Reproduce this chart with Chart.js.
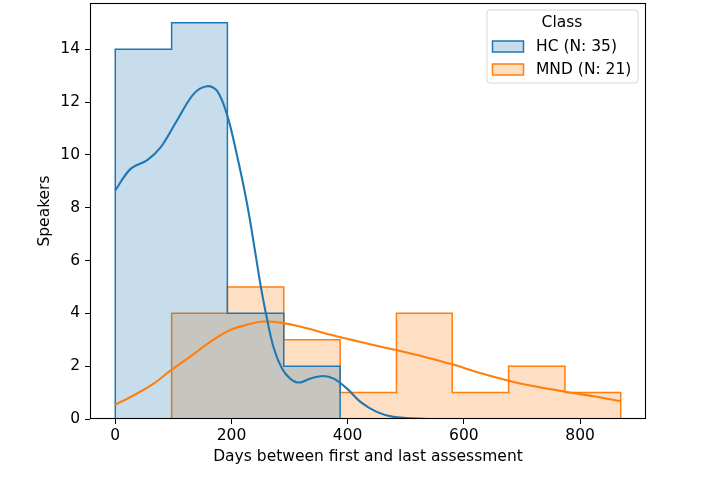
<!DOCTYPE html>
<html><head><meta charset="utf-8">
<script src="https://cdn.jsdelivr.net/npm/chart.js@4"></script>
<style>html,body{margin:0;padding:0;background:#fff}#wrap{width:718px;height:477px;position:relative}</style>
</head><body><div id="wrap"><canvas id="c"></canvas></div>
<script>
// ---- data ----
const binEdges = [0, 97, 193, 290, 387, 484, 580, 677, 774, 870];
const hcCounts = [14, 15, 4, 2, 0, 0, 0, 0, 0];
const mndCounts = [0, 4, 5, 3, 1, 4, 1, 2, 1];

const hcKdeX = [0, 26, 55, 78, 106, 135, 158, 175, 192, 209, 227, 241, 250, 261, 273, 287, 301, 316, 336, 358, 376, 399, 422, 450, 479, 520, 560, 870];
const hcKdeY = [8.66, 9.46, 9.80, 10.28, 11.29, 12.31, 12.60, 12.43, 11.55, 10.03, 8.13, 6.3, 5.08, 3.81, 2.67, 1.91, 1.53, 1.38, 1.53, 1.63, 1.53, 1.15, 0.65, 0.27, 0.08, 0.02, 0.0, 0.0];
const mndKdeX = [0, 32, 66, 96, 129, 164, 198, 232, 255, 284, 318, 376, 433, 485, 531, 580, 628, 677, 726, 775, 823, 870];
const mndKdeY = [0.54, 0.90, 1.34, 1.85, 2.36, 2.93, 3.37, 3.60, 3.69, 3.65, 3.50, 3.16, 2.86, 2.60, 2.36, 2.07, 1.74, 1.45, 1.22, 1.03, 0.86, 0.67];

const xTicks = [0, 200, 400, 600, 800];
const yTicks = [0, 2, 4, 6, 8, 10, 12, 14];
const seriesNames = ['HC (N: 35)', 'MND (N: 21)'];
const legendTitle = 'Class';
const xLabel = 'Days between first and last assessment';
const yLabel = 'Speakers';

// ---- helpers ----
const BLUE = '#1f77b4', ORANGE = '#ff7f0e';
const BLUE_FILL = 'rgba(31,119,180,0.25)', ORANGE_FILL = 'rgba(255,127,14,0.25)';
const FONT = 'DejaVu Sans';
const FS = 15.5;

function stepPoints(edges, counts) {
  let first = counts.findIndex(c => c > 0);
  let last = counts.length - 1;
  while (last > 0 && counts[last] === 0) last--;
  const pts = [{x: edges[first], y: 0}];
  for (let i = first; i <= last; i++) pts.push({x: edges[i], y: counts[i]});
  pts.push({x: edges[last + 1], y: counts[last]});
  pts.push({x: edges[last + 1], y: 0});
  return pts;
}
const zip = (xs, ys) => xs.map((x, i) => ({x, y: ys[i]}));

const span = binEdges[binEdges.length - 1] - binEdges[0];
const xMin = binEdges[0] - 0.05 * span;
const xMax = binEdges[binEdges.length - 1] + 0.05 * span;
const yMax = Math.max(...hcCounts, ...mndCounts) * 1.05;

const decor = {
  id: 'decor',
  afterDatasetsDraw(chart) {
    const {ctx, chartArea: a} = chart;
    ctx.save();
    ctx.strokeStyle = '#000'; ctx.lineWidth = 1.1;
    ctx.strokeRect(Math.round(a.left) + 0.5, Math.round(a.top) + 0.5, Math.round(a.right - a.left) - 1, Math.round(a.bottom - a.top) - 1);
    ctx.fillStyle = '#000';
    ctx.font = FS + 'px "' + FONT + '"';
    ctx.textAlign = 'center'; ctx.textBaseline = 'middle';
    ctx.fillText(xLabel, (a.left + a.right) / 2, 457);
    ctx.translate(45, (a.top + a.bottom) / 2);
    ctx.rotate(-Math.PI / 2);
    ctx.fillText(yLabel, 0, 0);
    ctx.restore();
    // legend
    ctx.save();
    const lx = 487, ly = 10, lw = 151, lh = 73, r = 3;
    ctx.beginPath();
    ctx.moveTo(lx + r, ly); ctx.lineTo(lx + lw - r, ly); ctx.quadraticCurveTo(lx + lw, ly, lx + lw, ly + r);
    ctx.lineTo(lx + lw, ly + lh - r); ctx.quadraticCurveTo(lx + lw, ly + lh, lx + lw - r, ly + lh);
    ctx.lineTo(lx + r, ly + lh); ctx.quadraticCurveTo(lx, ly + lh, lx, ly + lh - r);
    ctx.lineTo(lx, ly + r); ctx.quadraticCurveTo(lx, ly, lx + r, ly); ctx.closePath();
    ctx.fillStyle = 'rgba(255,255,255,0.8)'; ctx.fill();
    ctx.strokeStyle = '#d6d6d6'; ctx.lineWidth = 1; ctx.stroke();
    ctx.fillStyle = '#000'; ctx.font = FS + 'px "' + FONT + '"';
    ctx.textAlign = 'center'; ctx.textBaseline = 'middle';
    ctx.fillText(legendTitle, 562, 23);
    const items = [[BLUE, BLUE_FILL], [ORANGE, ORANGE_FILL]];
    items.forEach((it, i) => {
      const py = 41 + i * 23;
      ctx.fillStyle = it[1]; ctx.fillRect(492.5, py, 31, 11);
      ctx.strokeStyle = it[0]; ctx.lineWidth = 1.5; ctx.strokeRect(492.5, py, 31, 11);
      ctx.fillStyle = '#000'; ctx.textAlign = 'left';
      ctx.fillText(seriesNames[i], 536, py + 6);
    });
    ctx.restore();
  }
};

new Chart(document.getElementById('c'), {
  type: 'line',
  data: {
    datasets: [
      {label: seriesNames[0] + ' kde', data: zip(hcKdeX, hcKdeY), borderColor: BLUE, borderWidth: 2.1, pointRadius: 0, fill: false, tension: 0.35, order: 0},
      {label: seriesNames[1] + ' kde', data: zip(mndKdeX, mndKdeY), borderColor: ORANGE, borderWidth: 2.1, pointRadius: 0, fill: false, tension: 0.35, order: 1},
      {label: seriesNames[0], data: stepPoints(binEdges, hcCounts), stepped: 'before', borderColor: BLUE, backgroundColor: BLUE_FILL, borderWidth: 1.5, pointRadius: 0, fill: 'origin', order: 2},
      {label: seriesNames[1], data: stepPoints(binEdges, mndCounts), stepped: 'before', borderColor: ORANGE, backgroundColor: ORANGE_FILL, borderWidth: 1.5, pointRadius: 0, fill: 'origin', order: 3}
    ]
  },
  options: {
    responsive: true, maintainAspectRatio: false, animation: false,
    layout: {padding: {left: 0, right: 72, top: 3, bottom: 0}},
    plugins: {legend: {display: false}, tooltip: {enabled: false}},
    scales: {
      x: {
        type: 'linear', min: xMin, max: xMax,
        afterBuildTicks: s => { s.ticks = xTicks.map(v => ({value: v})); },
        afterFit: s => { s.height = 58; s.paddingLeft = 0; s.paddingRight = 0; },
        grid: {display: true, drawOnChartArea: false, drawTicks: true, tickLength: 5, color: '#000', lineWidth: 1},
        border: {display: false},
        ticks: {color: '#000', font: {family: FONT, size: FS}, padding: 3, maxRotation: 0}
      },
      y: {
        type: 'linear', min: 0, max: yMax,
        afterBuildTicks: s => { s.ticks = yTicks.map(v => ({value: v})); },
        afterFit: s => { s.width = 90; s.paddingTop = 0; s.paddingBottom = 0; },
        grid: {display: true, drawOnChartArea: false, drawTicks: true, tickLength: 5, color: '#000', lineWidth: 1},
        border: {display: false},
        ticks: {color: '#000', font: {family: FONT, size: FS}, padding: 5}
      }
    }
  },
  plugins: [decor]
});
</script>
</body></html>
